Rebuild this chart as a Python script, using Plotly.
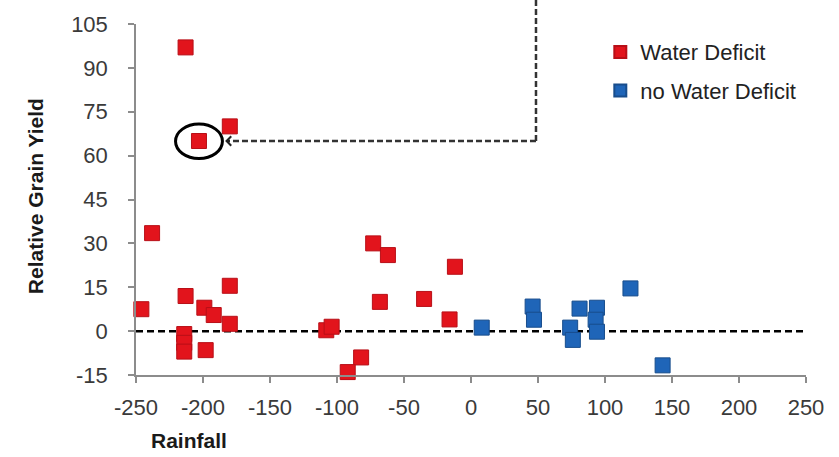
import plotly.graph_objects as go

# Rainfall anomaly vs. relative grain yield
deficit_rain = [-213, -180, -203, -238, -246, -213, -214, -214, -214, -199, -192, -180,
                -180, -198, -108, -104, -73, -62, -68, -82, -92, -12, -35, -16]
deficit_yield = [97, 70, 65, 33.5, 7.5, 12, -1, -4, -7, 8, 5.5, 15.5,
                 2.5, -6.5, 0.3, 1.5, 30, 26, 10, -9, -14, 22, 11, 4]

no_deficit_rain = [8, 46, 47, 74, 76, 81, 94, 93, 94, 119, 143]
no_deficit_yield = [1.2, 8.4, 3.9, 1.2, -3, 7.7, 8, 3.9, -0.2, 14.6, -11.7]

x_ticks = [-250, -200, -150, -100, -50, 0, 50, 100, 150, 200, 250]
y_ticks = [-15, 0, 15, 30, 45, 60, 75, 90, 105]
x_tick_text = ["-250", "-200", "-150", "-100", "-50", "0", "50", "100", "150", "200", "250"]
y_tick_text = ["-15", "0", "15", "30", "45", "60", "75", "90", "105"]

X_RANGE = [-250, 250]
Y_RANGE = [-15, 105]

# highlighted observation and the corner of the dashed callout path
highlight = 2
callout_corner_x = 48.5

FONT = "Liberation Sans, Arial, sans-serif"
RED, RED_EDGE = "#E2141C", "#B80F17"
BLUE, BLUE_EDGE = "#1F65B8", "#184D8C"
AXIS = "#8C8C8C"


def y_to_paper(v):
    return (v - Y_RANGE[0]) / (Y_RANGE[1] - Y_RANGE[0])


fig = go.Figure()
fig.add_trace(go.Scatter(
    x=deficit_rain, y=deficit_yield, mode="markers", name="Water Deficit",
    marker=dict(symbol="square", size=15, color=RED, line=dict(color=RED_EDGE, width=1)),
    cliponaxis=False, legend="legend",
))
fig.add_trace(go.Scatter(
    x=no_deficit_rain, y=no_deficit_yield, mode="markers", name="no Water Deficit",
    marker=dict(symbol="square", size=15, color=BLUE, line=dict(color=BLUE_EDGE, width=1)),
    cliponaxis=False, legend="legend2",
))

hx, hy = deficit_rain[highlight], deficit_yield[highlight]

shapes = [
    # zero reference line
    dict(type="line", xref="x", yref="y", x0=X_RANGE[0], x1=X_RANGE[1], y0=0, y1=0,
         line=dict(color="black", width=2.5, dash="7px,4px"), layer="below"),
    # callout path: down from the top, then left toward the highlighted point
    dict(type="line", xref="x", yref="paper", x0=callout_corner_x, x1=callout_corner_x,
         y0=y_to_paper(hy), y1=1.07, line=dict(color="#333333", width=2.5, dash="6px,3px")),
    dict(type="line", xref="x", yref="y", x0=callout_corner_x, x1=hx + 22, y0=hy, y1=hy,
         line=dict(color="#333333", width=2.5, dash="6px,3px")),
    # ring around the highlighted point
    dict(type="circle", xref="x", yref="y", x0=hx - 17.5, x1=hx + 17.5, y0=hy - 6, y1=hy + 5.8,
         line=dict(color="black", width=3)),
]

annotations = [
    dict(x=hx + 19.5, y=hy, ax=hx + 24, ay=hy, xref="x", yref="y", axref="x", ayref="y",
         text="", showarrow=True, arrowhead=4, arrowsize=0.9, arrowwidth=2, arrowcolor="#222222"),
    dict(text="<b>Relative Grain Yield</b>", xref="paper", yref="paper", x=-0.149, y=0.51,
         xanchor="center", yanchor="middle", textangle=-90, showarrow=False,
         font=dict(family=FONT, size=21, color="#1a1a1a")),
    dict(text="<b>Rainfall</b>", xref="paper", yref="paper", x=0.079, y=-0.186,
         xanchor="center", yanchor="middle", showarrow=False,
         font=dict(family=FONT, size=21, color="#1a1a1a")),
]

axis_common = dict(
    showgrid=False, zeroline=False, showline=True, linecolor=AXIS, linewidth=1.5,
    ticks="outside", ticklen=6, tickcolor=AXIS, tickwidth=1.5,
    tickfont=dict(family=FONT, size=22, color="#3a3a3a"),
)

legend_common = dict(
    xref="paper", yref="paper", xanchor="left", yanchor="middle",
    bgcolor="rgba(0,0,0,0)", font=dict(family=FONT, size=22, color="#222222"),
    itemsizing="constant",
)

fig.update_layout(
    width=839, height=457,
    margin=dict(l=136, r=33, t=20, b=82),
    paper_bgcolor="white", plot_bgcolor="white",
    xaxis=dict(range=X_RANGE, tickvals=x_ticks, ticktext=x_tick_text,
               ticklabelstandoff=6, **axis_common),
    yaxis=dict(range=Y_RANGE, tickvals=y_ticks, ticktext=y_tick_text,
               ticklabelstandoff=16, **axis_common),
    shapes=shapes, annotations=annotations,
    legend=dict(x=0.693, y=0.92, **legend_common),
    legend2=dict(x=0.693, y=0.81, **legend_common),
    showlegend=True,
)

fig.write_html("out.html")
